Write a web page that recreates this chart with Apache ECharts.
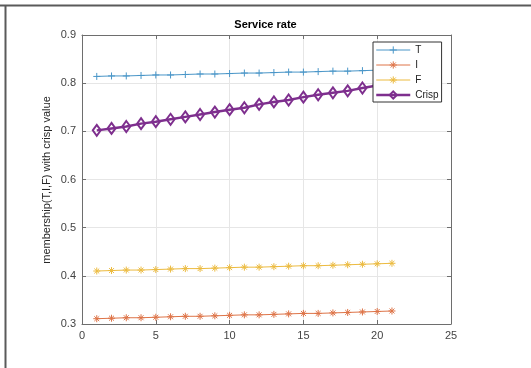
<!DOCTYPE html>
<html>
<head>
<meta charset="utf-8">
<script src="https://cdn.jsdelivr.net/npm/echarts@6/dist/echarts.min.js"></script>
<style>html,body{margin:0;padding:0;background:#fff}#c{width:531px;height:368px}</style>
</head>
<body>
<div id="c"></div>
<script>
var xs = [1,2,3,4,5,6,7,8,9,10,11,12,13,14,15,16,17,18,19,20,21];
var tVals = [0.814,0.815,0.815,0.816,0.817,0.817,0.818,0.819,0.819,0.820,0.821,0.821,0.822,0.823,0.823,0.824,0.825,0.825,0.826,0.827,0.827];
var iVals = [0.311,0.312,0.313,0.313,0.314,0.315,0.316,0.316,0.317,0.318,0.319,0.319,0.320,0.321,0.322,0.322,0.323,0.324,0.325,0.326,0.327];
var fVals = [0.410,0.411,0.412,0.412,0.413,0.414,0.415,0.415,0.416,0.417,0.418,0.418,0.419,0.420,0.421,0.421,0.422,0.423,0.424,0.425,0.426];
var crispVals = [0.702,0.706,0.710,0.716,0.720,0.725,0.730,0.735,0.740,0.745,0.749,0.756,0.761,0.765,0.771,0.776,0.780,0.784,0.790,0.795,0.800];
var seriesNames = ['T','I','F','Crisp'];
var xTicks = [0,5,10,15,20,25];
var yTicks = [0.3,0.4,0.5,0.6,0.7,0.8,0.9];
var yTitle = 'membership(T,I,F) with crisp value';

function pairs(v){ return xs.map(function(x,i){ return [x, v[i]]; }); }

var FONT = 'Liberation Sans, Arial, Helvetica, sans-serif';
var AX = '#6e6e6e';
var plus = 'path://M0,5 L10,5 M5,0 L5,10';
var star = 'path://M0,5 L10,5 M5,0 L5,10 M1.5,1.5 L8.5,8.5 M1.5,8.5 L8.5,1.5';
var colors = {T: '#4a96c8', I: '#de7448', F: '#ecbb40', Crisp: '#7E2F8E'};
var syms = {T: plus, I: star, F: star, Crisp: 'diamond'};

function thin(name, data){
  var color = colors[name];
  return {
    name: name, type: 'line', data: pairs(data),
    symbol: syms[name], symbolSize: 7, showSymbol: true,
    lineStyle: {color: color, width: 1},
    itemStyle: {color: 'rgba(0,0,0,0)', borderColor: color, borderWidth: 1},
    emphasis: {disabled: true}, z: 2
  };
}

var legendData = seriesNames.map(function(n){
  var c = colors[n];
  return {
    name: n,
    itemStyle: {color: 'rgba(0,0,0,0)', borderColor: c, borderWidth: n === 'Crisp' ? 2 : 1},
    lineStyle: {color: c, width: n === 'Crisp' ? 2.5 : 1}
  };
});

var chart = echarts.init(document.getElementById('c'), null, {renderer: 'canvas'});
var baseAxis = {
  axisLine: {show: true, onZero: false, lineStyle: {color: AX, width: 1}},
  axisTick: {show: true, inside: true, length: 4, lineStyle: {color: AX}},
  splitLine: {show: false},
  axisLabel: {show: false}
};
chart.setOption({
  animation: false,
  backgroundColor: '#fff',
  title: {
    text: 'Service rate', left: 'center', top: 14,
    textStyle: {fontFamily: FONT, fontSize: 11, fontWeight: 'bold', color: '#000'}
  },
  grid: {left: 82, right: 80, top: 35, bottom: 44},
  legend: {
    data: legendData, orient: 'vertical', left: 373, top: 42,
    itemWidth: 34, itemHeight: 9, itemGap: 5, padding: [3, 3, 2, 2],
    backgroundColor: '#fff', borderColor: '#333', borderWidth: 1, borderRadius: 0,
    textStyle: {fontFamily: FONT, fontSize: 10, color: '#222'}
  },
  xAxis: [
    Object.assign({}, baseAxis, {
      type: 'value', min: 0, max: 25, interval: 5, position: 'bottom',
      splitLine: {show: true, lineStyle: {color: '#e6e6e6'}},
      axisLabel: {show: true, fontFamily: FONT, fontSize: 11, color: '#444', margin: 6,
        formatter: function(v){ return xTicks.indexOf(v) >= 0 ? String(v) : ''; }}
    }),
    Object.assign({}, baseAxis, {type: 'value', min: 0, max: 25, interval: 5, position: 'top'})
  ],
  yAxis: [
    Object.assign({}, baseAxis, {
      type: 'value', min: 0.3, max: 0.9, interval: 0.1, position: 'left',
      splitLine: {show: true, lineStyle: {color: '#e6e6e6'}},
      axisLabel: {show: true, fontFamily: FONT, fontSize: 11, color: '#444', margin: 6,
        formatter: function(v){ return (Math.round(v*10)/10).toFixed(1); }}
    }),
    Object.assign({}, baseAxis, {type: 'value', min: 0.3, max: 0.9, interval: 0.1, position: 'right'})
  ],
  series: [
    thin('T', tVals),
    thin('I', iVals),
    thin('F', fVals),
    {
      name: 'Crisp', type: 'line', data: pairs(crispVals),
      symbol: 'diamond', symbolSize: [8, 11], showSymbol: true,
      lineStyle: {color: colors.Crisp, width: 2.5},
      itemStyle: {color: 'rgba(0,0,0,0)', borderColor: colors.Crisp, borderWidth: 2},
      emphasis: {disabled: true}, z: 3
    }
  ],
  graphic: [
    {type: 'line', shape: {x1: 0, y1: 5.5, x2: 531, y2: 5.5}, style: {stroke: '#5a5a5a', lineWidth: 2}, silent: true},
    {type: 'line', shape: {x1: 5.5, y1: 5, x2: 5.5, y2: 368}, style: {stroke: '#5a5a5a', lineWidth: 2}, silent: true},
    {type: 'text', x: 47, y: 180, rotation: Math.PI / 2, silent: true,
     style: {text: yTitle, fontFamily: FONT, fontSize: 11, fill: '#262626', align: 'center', verticalAlign: 'middle'}}
  ]
});
</script>
</body>
</html>
